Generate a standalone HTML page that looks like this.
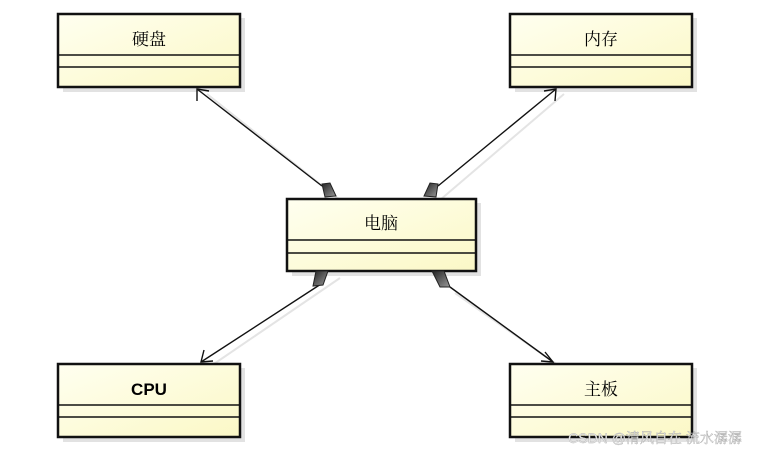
<!DOCTYPE html>
<html><head><meta charset="utf-8"><style>
html,body{margin:0;padding:0;background:#fff;}
svg{display:block;}
text{font-family:"Liberation Sans","Noto Serif CJK SC",serif;font-size:17px;text-anchor:middle;}
</style></head><body>
<svg width="768" height="455" viewBox="0 0 768 455" xmlns="http://www.w3.org/2000/svg">
<defs>
<linearGradient id="g" x1="0" y1="0" x2="1" y2="1">
<stop offset="0" stop-color="#fffff0"/><stop offset="1" stop-color="#fbf8c6"/>
</linearGradient>
<linearGradient id="d" x1="0" y1="0" x2="1" y2="1">
<stop offset="0" stop-color="#222"/><stop offset="1" stop-color="#999"/>
</linearGradient>
</defs>
<!-- shadow lines -->
<g stroke="#e4e4e4" stroke-width="2" fill="none">
<line x1="340" y1="200" x2="207" y2="94"/>
<line x1="440" y1="200" x2="564" y2="94"/>
<line x1="340" y1="278" x2="208" y2="368"/>
<line x1="455" y1="293" x2="562" y2="368"/>
</g>
<!-- boxes -->
<g>
<rect x="63" y="18" width="182" height="74" fill="#e2e2e2"/>
<rect x="515" y="18" width="182" height="74" fill="#e2e2e2"/>
<rect x="292" y="203" width="189" height="73" fill="#e2e2e2"/>
<rect x="63" y="368" width="182" height="74" fill="#e2e2e2"/>
<rect x="515" y="368" width="182" height="74" fill="#e2e2e2"/>
</g>
<g fill="url(#g)" stroke="#111" stroke-width="2.5">
<rect x="58" y="14" width="182" height="73"/>
<rect x="510" y="14" width="182" height="73"/>
<rect x="287" y="199" width="189" height="72"/>
<rect x="58" y="364" width="182" height="73"/>
<rect x="510" y="364" width="182" height="73"/>
</g>
<g stroke="#111" stroke-width="1.5">
<line x1="58" y1="55" x2="240" y2="55"/><line x1="58" y1="67" x2="240" y2="67"/>
<line x1="510" y1="55" x2="692" y2="55"/><line x1="510" y1="67" x2="692" y2="67"/>
<line x1="287" y1="240" x2="476" y2="240"/><line x1="287" y1="253" x2="476" y2="253"/>
<line x1="58" y1="405" x2="240" y2="405"/><line x1="58" y1="417" x2="240" y2="417"/>
<line x1="510" y1="405" x2="692" y2="405"/><line x1="510" y1="417" x2="692" y2="417"/>
</g>
<!-- connectors -->
<g stroke="#111" stroke-width="1.4" fill="none">
<line x1="322" y1="186" x2="197" y2="89"/>
<polyline points="197,101 197,89 209,91"/>
<line x1="438" y1="186" x2="556" y2="89"/>
<polyline points="544,91 556,89 555,101"/>
<line x1="321" y1="284" x2="201" y2="362"/>
<polyline points="204,350 201,362 213,361"/>
<line x1="450" y1="287" x2="553" y2="362"/>
<polyline points="545,352 553,362 541,361"/>
</g>
<!-- diamonds -->
<g fill="url(#d)" stroke="#222" stroke-width="1">
<polygon points="322,184 330,183 336,196 325,197"/>
<polygon points="438,184 430,183 424,196 436,197"/>
<polygon points="316,271 328,271 323,285 313,286"/>
<polygon points="432,271 444,271 450,287 440,287"/>
</g>
<text x="149" y="45">硬盘</text>
<text x="601" y="45">内存</text>
<text x="381" y="229">电脑</text>
<text x="149" y="395" style="font-weight:bold">CPU</text>
<text x="601" y="395">主板</text>
<text x="655" y="443" style="font-size:14px;fill:#f0f0f0;stroke:#b0b0b0;stroke-width:0.4">CSDN @清风自在 流水潺潺</text>
</svg>
</body></html>
